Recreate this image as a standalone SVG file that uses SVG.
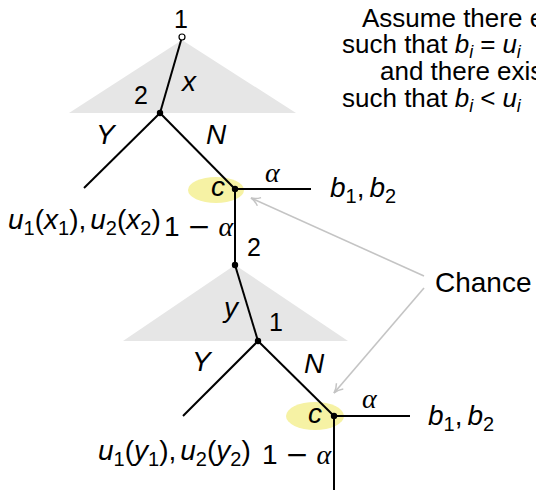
<svg xmlns="http://www.w3.org/2000/svg" width="536" height="490" viewBox="0 0 536 490">
<style>
text{font-family:"Liberation Sans",Arial,sans-serif;fill:#000}
.lab{font-size:25px}
.m{font-size:28px}
.i{font-style:italic}
.s{font-size:20px;font-style:normal}
.si{font-size:18px;font-style:italic}
.g{font-family:"Liberation Serif","Times New Roman",serif;font-style:italic}
.mn{font-family:"DejaVu Serif","Liberation Serif",serif;font-style:normal}
.t{font-size:26px}
.edge{stroke:#000;stroke-width:2;fill:none}
.tri{fill:#e6e6e6}
.hl{fill:#f6f2a4}
.dot{fill:#000}
.ptr{stroke:#c4c4c4;stroke-width:1.6;fill:none}
</style>
<defs>
<marker id="ah" viewBox="0 0 12 12" refX="10" refY="6" markerWidth="12" markerHeight="12" markerUnits="userSpaceOnUse" orient="auto">
<path d="M1,1.5 Q5,5 10,6 Q5,7 1,10.5" fill="none" stroke="#c4c4c4" stroke-width="1.5"/>
</marker>
</defs>

<polygon class="tri" points="182,40 69,113 296,113"/>
<polygon class="tri" points="235,265 123,341 348,341"/>
<ellipse class="hl" cx="216" cy="190" rx="28" ry="13"/>
<ellipse class="hl" cx="315" cy="416" rx="29" ry="14"/>

<g id="connectors">
<line class="edge" x1="182" y1="37" x2="160" y2="113"/>
<line class="edge" x1="160" y1="113" x2="84" y2="188"/>
<line class="edge" x1="160" y1="113" x2="235" y2="189"/>
<line class="edge" x1="235" y1="189" x2="311" y2="189"/>
<line class="edge" x1="235" y1="189" x2="235" y2="265"/>
<line class="edge" x1="235" y1="265" x2="258" y2="341"/>
<line class="edge" x1="258" y1="341" x2="183" y2="416"/>
<line class="edge" x1="258" y1="341" x2="334" y2="416"/>
<line class="edge" x1="334" y1="416" x2="410" y2="416"/>
<line class="edge" x1="334" y1="416" x2="334" y2="492"/>
<line class="ptr" x1="424" y1="276" x2="251" y2="198" marker-end="url(#ah)"/>
<line class="ptr" x1="424" y1="288" x2="334" y2="393" marker-end="url(#ah)"/>
</g>

<g id="n1">
<circle cx="182" cy="37" r="3" fill="#fff" stroke="#000" stroke-width="1.2"/>
<text class="lab" x="181" y="28" text-anchor="middle">1</text>
<text class="m i" x="182" y="91">x</text>
</g>
<g id="n2">
<circle class="dot" cx="160" cy="113" r="3.2"/>
<text class="lab" x="141" y="104" text-anchor="middle">2</text>
<text class="m i" x="96" y="144">Y</text>
<text class="m i" x="206" y="144">N</text>
<text class="m" x="8" y="229"><tspan class="i">u</tspan><tspan class="s" dy="6">1</tspan><tspan dy="-6">(</tspan><tspan class="i">x</tspan><tspan class="s" dy="6">1</tspan><tspan dy="-6">),</tspan><tspan class="i" dx="4">u</tspan><tspan class="s" dy="6">2</tspan><tspan dy="-6">(</tspan><tspan class="i">x</tspan><tspan class="s" dy="6">2</tspan><tspan dy="-6">)</tspan></text>
</g>
<g id="c1">
<circle class="dot" cx="235" cy="189" r="3.2"/>
<text class="m i" x="211" y="196">c</text>
<text class="m g" x="265" y="182" font-size="22">α</text>
<text class="m" x="330" y="197"><tspan class="i">b</tspan><tspan class="s" dy="6">1</tspan><tspan dy="-6">,</tspan><tspan class="i" dx="5">b</tspan><tspan class="s" dy="6">2</tspan></text>
<text class="m" x="164" y="236" font-size="23">1 <tspan class="mn">−</tspan> <tspan class="g">α</tspan></text>
</g>
<g id="n3">
<circle class="dot" cx="235" cy="265" r="3.2"/>
<text class="lab" x="247" y="256">2</text>
<text class="m i" x="224" y="317">y</text>
</g>
<g id="n4">
<circle class="dot" cx="258" cy="341" r="3.2"/>
<text class="lab" x="269" y="331">1</text>
<text class="m i" x="192" y="371">Y</text>
<text class="m i" x="304" y="373">N</text>
<text class="m" x="98" y="460"><tspan class="i">u</tspan><tspan class="s" dy="6">1</tspan><tspan dy="-6">(</tspan><tspan class="i">y</tspan><tspan class="s" dy="6">1</tspan><tspan dy="-6">),</tspan><tspan class="i" dx="4">u</tspan><tspan class="s" dy="6">2</tspan><tspan dy="-6">(</tspan><tspan class="i">y</tspan><tspan class="s" dy="6">2</tspan><tspan dy="-6">)</tspan></text>
</g>
<g id="c2">
<circle class="dot" cx="334" cy="416" r="3.2"/>
<text class="m i" x="308" y="423">c</text>
<text class="m g" x="362" y="408" font-size="22">α</text>
<text class="m" x="428" y="425"><tspan class="i">b</tspan><tspan class="s" dy="6">1</tspan><tspan dy="-6">,</tspan><tspan class="i" dx="5">b</tspan><tspan class="s" dy="6">2</tspan></text>
<text class="m" x="262" y="464" font-size="23">1 <tspan class="mn">−</tspan> <tspan class="g">α</tspan></text>
</g>
<g id="chance">
<text x="435" y="292" font-size="28">Chance</text>
</g>
<g id="note" class="t">
<text x="362" y="27">Assume there exists</text>
<text x="342" y="53">such that <tspan class="i">b</tspan><tspan class="si" dy="5">i</tspan><tspan dy="-5" dx="7">=</tspan><tspan class="i" dx="7">u</tspan><tspan class="si" dy="5">i</tspan></text>
<text x="380" y="80">and there exists</text>
<text x="342" y="107">such that <tspan class="i">b</tspan><tspan class="si" dy="5">i</tspan><tspan dy="-5" dx="7">&lt;</tspan><tspan class="i" dx="7">u</tspan><tspan class="si" dy="5">i</tspan></text>
</g>
</svg>
